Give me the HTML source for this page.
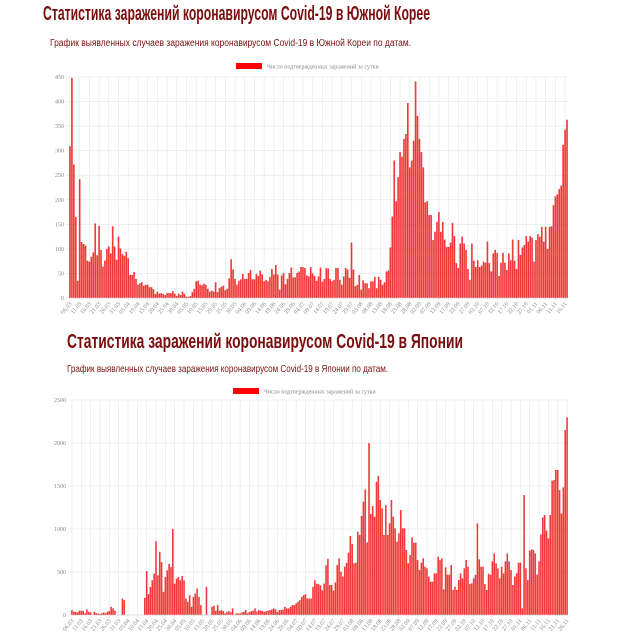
<!DOCTYPE html>
<html><head><meta charset="utf-8">
<style>
html,body{margin:0;padding:0;background:#fff;}
svg{display:block;}
.t{font-family:"Liberation Sans",sans-serif;font-weight:bold;fill:#7a0d0d;}
.s{font-family:"Liberation Sans",sans-serif;fill:#7a1010;}
.ax{font-family:"Liberation Serif",serif;fill:#888;font-size:6px;}
</style></head>
<body>
<svg id="chart" width="620" height="634" viewBox="0 0 620 634">
<text class="t" x="43" y="20" font-size="20" textLength="387" lengthAdjust="spacingAndGlyphs">Статистика заражений коронавирусом Covid-19 в Южной Корее</text>
<text class="s" x="50" y="46" font-size="10" textLength="361" lengthAdjust="spacingAndGlyphs">График выявленных случаев заражения коронавирусом Covid-19 в Южной Кореи по датам.</text>
<text class="t" x="67" y="348" font-size="20" textLength="396" lengthAdjust="spacingAndGlyphs">Статистика заражений коронавирусом Covid-19 в Японии</text>
<text class="s" x="67" y="372" font-size="10" textLength="321" lengthAdjust="spacingAndGlyphs">График выявленных случаев заражения коронавирусом Covid-19 в Японии по датам.</text>
<g id="korea"></g>
<g id="japan"></g>
</svg>
<script>
const legendLabel = "Число подтвержденных заражений за сутки";
const koreaTicks = [0,50,100,150,200,250,300,350,400,450];
const japanTicks = [0,500,1000,1500,2000,2500];
const koreaValues = [309,448,272,165,35,242,114,110,107,76,74,84,93,152,87,147,98,64,76,100,105,91,146,105,78,125,101,89,86,94,81,47,47,53,39,27,30,32,25,27,27,22,22,18,8,13,9,10,8,6,10,10,10,14,9,4,9,6,13,8,3,2,4,12,18,34,35,27,26,29,27,19,13,15,13,32,12,20,23,25,16,19,40,79,58,39,27,35,38,49,39,39,51,57,38,38,49,45,56,48,34,37,34,43,59,48,67,48,17,46,51,28,39,51,62,42,42,51,54,63,63,61,46,44,63,50,45,35,44,62,33,39,61,60,39,34,
37,61,61,37,27,44,61,58,41,113,58,24,27,47,17,36,30,30,20,34,34,43,20,43,37,27,32,54,56,103,166,280,197,246,297,288,324,334,397,266,280,320,441,371,324,297,266,195,197,169,169,118,135,155,175,135,155,119,104,104,113,153,126,71,61,111,125,111,98,59,37,111,76,63,77,63,66,74,72,115,71,54,91,98,92,45,72,92,72,57,91,77,119,76,59,118,88,103,108,126,115,126,123,74,118,130,125,145,115,145,100,145,146,189,207,211,222,229,312,343,363];
const japanValues = [58,38,35,30,50,48,48,20,65,38,30,0,38,20,15,12,20,30,20,38,45,96,77,50,0,0,0,192,173,0,0,0,0,0,0,0,0,0,0,200,511,242,327,404,480,858,461,735,615,269,442,519,596,558,1000,365,423,442,404,454,404,192,154,231,96,211,250,308,211,115,0,0,327,0,0,96,108,50,115,50,58,45,19,38,45,30,77,0,19,19,19,30,38,58,19,35,45,50,77,38,58,50,45,35,45,50,58,65,77,65,35,58,58,65,96,77,77,96,115,115,135,154,173,211,231,242,192,192,192,327,404,365,358,346,288,365,577,654,
349,349,283,380,581,659,504,446,562,608,725,919,826,601,608,969,930,1151,1318,1461,845,2000,1174,1267,1143,1550,1616,1337,1240,930,1279,930,1066,1337,1143,1008,853,950,1221,1008,1008,756,601,698,903,841,841,640,523,608,659,562,543,446,388,388,484,484,678,640,659,298,554,469,469,581,291,329,291,407,484,426,543,640,562,360,368,426,469,1066,647,562,562,360,291,480,469,624,717,601,543,426,562,484,624,717,624,523,349,446,484,608,608,78,1395,543,407,748,764,756,717,469,624,938,1135,1163,981,891,1163,1562,1570,1686,1686,1453,1182,1484,2151,2299];

const NS="http://www.w3.org/2000/svg";
function mk(tag, attrs, parent){const e=document.createElementNS(NS,tag);for(const k in attrs)e.setAttribute(k,attrs[k]);parent.appendChild(e);return e;}
function dateLabel(i){const d=new Date(2020,2,6+i);return String(d.getDate()).padStart(2,'0')+'.'+String(d.getMonth()+1).padStart(2,'0');}

function drawChart(g, values, ticks, box, legendY, legendX){
  const maxV = ticks[ticks.length-1];
  const yS = v => box.bottom - v/maxV*(box.bottom-box.top);
  const step = (box.right-box.left)/values.length;
  const xS = i => box.left + i*step;
  ticks.forEach(t=>{
    const ln = mk('line',{x1:box.left-3,x2:box.right,y1:yS(t),y2:yS(t),stroke:'#e6e6e6','stroke-width':0.6},g);
    
    
    const tx = mk('text',{x:box.left-5,y:yS(t)+2,'text-anchor':'end',class:'ax'},g);
    tx.textContent = t;
    
    
  });
  for(let i=0;i<values.length;i+=5){
    const x = xS(i)+step/2;
    const gl = mk('line',{x1:x,x2:x,y1:box.top,y2:box.bottom+3,stroke:'#e6e6e6','stroke-width':0.6},g);
    
    
    const tx = mk('text',{x:x+2,y:box.bottom+6,'text-anchor':'end',class:'ax',transform:`rotate(-50 ${x+2} ${box.bottom+6})`},g);
    tx.textContent = dateLabel(i);
    
    
  }
  values.forEach((v,i)=>{
    const r = mk('rect',{x:xS(i)+step*0.08,y:yS(v),width:step*0.84,height:box.bottom-yS(v),fill:'rgba(240,20,20,0.85)'},g);
    
    
  });
  mk('line',{x1:box.left,x2:box.right,y1:box.bottom,y2:box.bottom,stroke:'#ccc','stroke-width':0.6},g);
  const lr = mk('rect',{x:legendX,y:legendY,width:26,height:6,fill:'#f00'},g);
  
  
  const lt = mk('text',{x:legendX+31,y:legendY+5.5,class:'ax'},g);
  lt.textContent = legendLabel;
  
  
}
drawChart(document.getElementById('korea'), koreaValues, koreaTicks, {left:69,right:568,top:77,bottom:298}, 63, 236);
drawChart(document.getElementById('japan'), japanValues, japanTicks, {left:71,right:568,top:400,bottom:615}, 388, 233);
</script>
</body></html>
